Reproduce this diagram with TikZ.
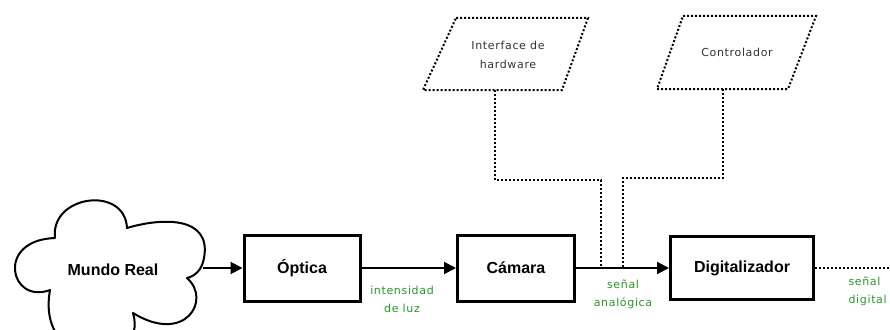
\documentclass[tikz,border=0pt]{standalone}
\usepackage{fontspec}
\usepackage{tikz}
\usetikzlibrary{arrows.meta}
\setmainfont{Liberation Sans}
\newfontfamily\lblfont[LetterSpace=6]{DejaVu Sans}
\definecolor{lblgreen}{RGB}{40,150,40}
\definecolor{paratext}{RGB}{50,50,50}

\begin{document}
\begin{tikzpicture}[x=1pt, y=-1pt,
  block/.style={draw, line width=3pt, minimum width=116pt, minimum height=66pt, inner sep=0pt, font=\bfseries\fontsize{16}{19}\selectfont},
  dotline/.style={line width=2pt, dash pattern=on 2pt off 2pt, line join=miter},
  paratxt/.style={align=center, inner sep=0pt, text=paratext, font=\lblfont\fontsize{11}{19}\selectfont},
  arr/.style={line width=2pt, -{Triangle[length=12pt,width=12pt]}},
  lbl/.style={align=center, text=lblgreen, font=\lblfont\fontsize{11}{18}\selectfont}
]
  \useasboundingbox (0,0) rectangle (890,329);
  \clip (0,0) rectangle (890,329);

  % Cloud
  \draw[line width=2pt, line join=round] (50,290) .. controls (10,305) and (-5,240) .. (55,238)
    .. controls (50,195) and (125,185) .. (127,228)
    .. controls (160,218) and (212,215) .. (204,258)
    .. controls (202,270) and (195,276) .. (187,278)
    .. controls (212,300) and (185,345) .. (133,313)
    .. controls (150,370) and (35,375) .. (50,290) -- cycle;
  \node[font=\bfseries\fontsize{16}{19}\selectfont] (mundo) at (113,270) {Mundo Real};
  \coordinate (nube) at (203,268);

  % Blocks
  \node[block] (optica) at (302,268) {Óptica};
  \node[block, minimum width=117pt] (camara) at (516,268) {Cámara};
  \node[block, minimum width=143pt, minimum height=63pt] (digit) at (742,268) {Digitalizador};

  \draw[arr] (nube) -- (optica);
  \draw[arr] (optica) -- (camara);
  \draw[arr] (camara) -- (digit);

  \coordinate (salida) at (890,268);
  \draw[dotline] (digit) -- (salida);

  % Top inputs
  \draw[dotline] (456,18) -- (588,18) -- (562,90) -- (423,90) -- cycle;
  \node[paratxt] (hw) at (508,55) {Interface de\\hardware};
  \coordinate (hw-out) at (495,90);

  \draw[dotline] (683,16) -- (816,16) -- (788,89) -- (657,89) -- cycle;
  \node[paratxt] (ctrl) at (737,52) {Controlador};
  \coordinate (ctrl-out) at (723,89);

  \coordinate (tapA) at (601,268);
  \coordinate (tapB) at (623,268);
  \draw[dotline] (hw-out) -- ++(0,90) -| (tapA);
  \draw[dotline] (ctrl-out) -- ++(0,89) -| (tapB);

  % Labels
  \node[lbl] (luz) at (402,299) {intensidad\\de luz};
  \node[lbl] (analog) at (623,294) {señal\\analógica};
  \node[lbl, align=left, anchor=west] (digital) at (845,291) {señal\\digital};
\end{tikzpicture}
\end{document}
